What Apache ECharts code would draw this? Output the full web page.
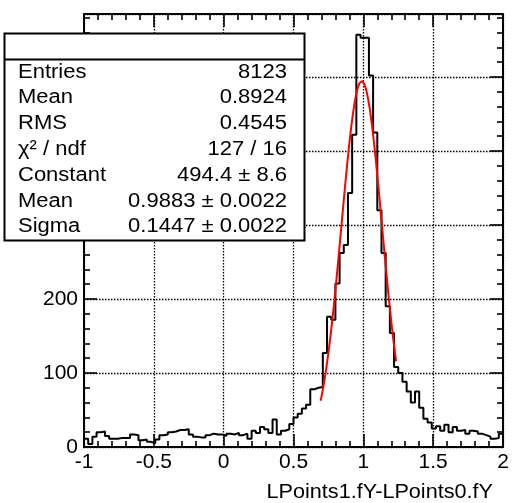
<!DOCTYPE html>
<html><head><meta charset="utf-8">
<script src="https://cdn.jsdelivr.net/npm/echarts@6/dist/echarts.min.js"></script>
<style>html,body{margin:0;padding:0;background:#fff}#c{width:514px;height:503px}</style>
</head><body><div id="c"></div>
<script>
// ---- data ----
const histRange = [-1, 2];
const binCounts = [
  11, 4, 14, 20, 21, 15, 11, 11, 12, 12,
  12, 17, 16, 9, 10, 7, 5, 10, 16, 17,
  20, 21, 23, 23, 24, 17, 14, 13, 13, 16,
  18, 17, 17, 15, 18, 17, 19, 16, 18, 11,
  22, 19, 27, 24, 19, 37, 17, 22, 24, 31,
  40, 45, 52, 57, 78, 80, 81, 127, 176, 172,
  221, 262, 273, 343, 422, 557, 553, 553, 502, 425,
  320, 262, 190, 154, 108, 100, 88, 75, 60, 75,
  53, 38, 33, 25, 28, 22, 30, 20, 27, 22,
  23, 18, 22, 21, 18, 16, 14, 11, 12, 18
];
const xTickValues = [-1, -0.5, 0, 0.5, 1, 1.5, 2];
const yMaxValue = 585;
const statsLabels = ['Entries', 'Mean', 'RMS', 'χ² / ndf', 'Constant', 'Mean', 'Sigma'];
const statsValues = ['8123', '0.8924', '0.4545', '127 / 16', '494.4 ± 8.6', '0.9883 ± 0.0022', '0.1447 ± 0.0022'];
const fitConstant = 494.4, fitMean = 0.9883, fitSigma = 0.1447;
const fitRange = [0.694, 1.235];
const xTitle = 'LPoints1.fY-LPoints0.fY';

// ---- build series ----
const nb = binCounts.length;
const bw = (histRange[1] - histRange[0]) / nb;
const histData = binCounts.map((v, i) => [histRange[0] + i * bw, v]);
histData.push([histRange[1], binCounts[nb - 1]]);
const fitData = [];
const nf = 120;
for (let i = 0; i <= nf; i++) {
  const x = fitRange[0] + (fitRange[1] - fitRange[0]) * i / nf;
  fitData.push([x, fitConstant * Math.exp(-0.5 * Math.pow((x - fitMean) / fitSigma, 2))]);
}

const FONT = 'Liberation Sans, Arial, Helvetica, sans-serif';
const black = '#000';
const gridLine = { show: true, lineStyle: { color: black, width: 1.3, type: [1.5, 1.5] } };
function xAx(pos, labels) {
  return {
    type: 'value', min: histRange[0], max: histRange[1], interval: 0.5, position: pos,
    axisLine: { show: true, onZero: false, lineStyle: { color: black, width: 2 } },
    axisTick: { show: true, inside: true, length: 13, lineStyle: { color: black, width: 1.6 } },
    minorTick: { show: true, splitNumber: 5, length: 6, lineStyle: { color: black, width: 1.6 } },
    splitLine: labels ? gridLine : { show: false },
    axisLabel: { show: labels, margin: 5, color: black, fontSize: 21, fontFamily: FONT,
      formatter: v => String(v) }
  };
}
function yAx(pos, labels) {
  return {
    type: 'value', min: 0, max: yMaxValue, interval: 100, position: pos,
    axisLine: { show: true, onZero: false, lineStyle: { color: black, width: 2 } },
    axisTick: { show: true, inside: true, length: 13, lineStyle: { color: black, width: 1.6 } },
    minorTick: { show: true, splitNumber: 5, length: 6, lineStyle: { color: black, width: 1.6 } },
    splitLine: labels ? gridLine : { show: false },
    axisLabel: { show: labels, margin: 6, color: black, fontSize: 21, fontFamily: FONT,
      showMaxLabel: false, formatter: v => (v % 100 === 0 ? String(v) : '') }
  };
}

// stats box
const boxL = 4.5, boxT = 33.5, boxR = 304.5, boxB = 240.5, titleB = 59.5;
const statsEls = [
  { type: 'rect', shape: { x: boxL, y: boxT, width: boxR - boxL, height: boxB - boxT },
    style: { fill: '#fff', stroke: black, lineWidth: 2 }, z: 100 },
  { type: 'line', shape: { x1: boxL, y1: titleB, x2: boxR, y2: titleB },
    style: { stroke: black, lineWidth: 2 }, z: 101 }
];
statsLabels.forEach((lab, i) => {
  const y = 72 + 25.8 * i;
  statsEls.push({ type: 'text', x: 18, y: y, scaleX: 1.1, z: 102,
    style: { text: lab, fill: black, font: '20px ' + FONT, textAlign: 'left', textVerticalAlign: 'middle' } });
  statsEls.push({ type: 'text', x: 287, y: y, scaleX: 1.1, z: 102,
    style: { text: statsValues[i], fill: black, font: '20px ' + FONT, textAlign: 'right', textVerticalAlign: 'middle' } });
});
statsEls.push({ type: 'text', x: 493, y: 492, scaleX: 1.03, z: 102,
  style: { text: xTitle, fill: black, font: '21px ' + FONT, textAlign: 'right', textVerticalAlign: 'middle' } });

const chart = echarts.init(document.getElementById('c'), null, { renderer: 'canvas' });
chart.setOption({
  animation: false,
  backgroundColor: '#fff',
  grid: { left: 84, top: 14, right: 11, bottom: 56, containLabel: false, outerBoundsMode: 'none' },
  xAxis: [xAx('bottom', true), xAx('top', false)],
  yAxis: [yAx('left', true), yAx('right', false)],
  series: [
    { type: 'line', xAxisIndex: 0, yAxisIndex: 0, step: 'end', symbol: 'none', data: histData,
      lineStyle: { color: black, width: 2 }, z: 3 },
    { type: 'line', xAxisIndex: 0, yAxisIndex: 0, symbol: 'none', data: fitData,
      lineStyle: { color: '#ff0000', width: 2 }, z: 4 }
  ],
  graphic: { elements: statsEls }
});
</script></body></html>
